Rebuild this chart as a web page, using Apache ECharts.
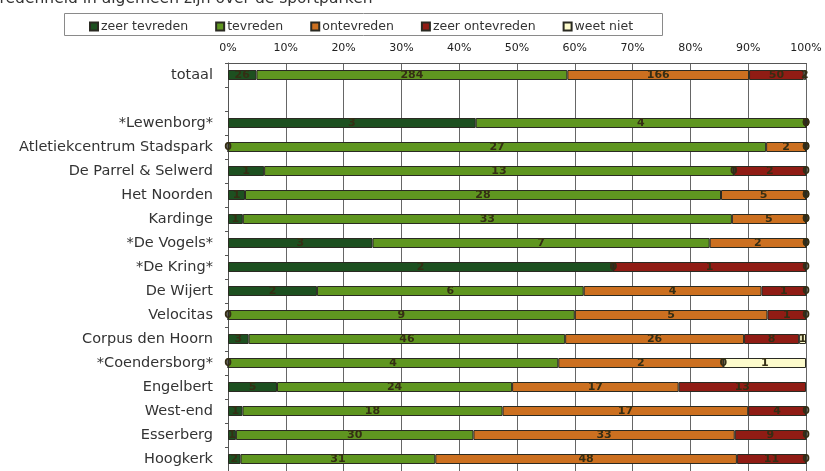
<!DOCTYPE html>
<html>
<head>
<meta charset="utf-8">
<script src="https://cdn.jsdelivr.net/npm/echarts@6/dist/echarts.min.js"></script>
<style>
  html, body { margin: 0; padding: 0; background: #fff; }
  #chart { width: 825px; height: 471px; }
</style>
</head>
<body>
<div id="chart"></div>
<script>
// rijen van boven naar beneden, lege rij tussen totaal en de parken
const categories = [
  "totaal", "", "*Lewenborg*", "Atletiekcentrum Stadspark", "De Parrel & Selwerd",
  "Het Noorden", "Kardinge", "*De Vogels*", "*De Kring*", "De Wijert", "Velocitas",
  "Corpus den Hoorn", "*Coendersborg*", "Engelbert", "West-end", "Esserberg", "Hoogkerk"
];
const seriesNames = ["zeer tevreden", "tevreden", "ontevreden", "zeer ontevreden", "weet niet"];
// aantallen (labels in de balken)
const zeerTevreden   = [26, null, 3, 0, 1, 1, 1, 3, 2, 2, 0, 3, 0, 5, 1, 1, 2];
const tevreden       = [284, null, 4, 27, 13, 28, 33, 7, 0, 6, 9, 46, 4, 24, 18, 30, 31];
const ontevreden     = [166, null, 0, 2, 0, 5, 5, 2, 0, 4, 5, 26, 2, 17, 17, 33, 48];
const zeerOntevreden = [50, null, 0, 0, 2, 0, 0, 0, 1, 1, 1, 8, 0, 13, 4, 9, 11];
const weetNiet       = [2, null, 0, 0, 0, 0, 0, 0, 0, 0, 0, 1, 1, 0, 0, 0, 0];
const xTicks = [0, 10, 20, 30, 40, 50, 60, 70, 80, 90, 100];

const counts = [zeerTevreden, tevreden, ontevreden, zeerOntevreden, weetNiet];
const colors = ["#1d5020", "#5f9620", "#cc7020", "#901c14", "#fdfbcc"];

// rijtotalen voor 100% gestapeld
const rowTotals = categories.map((c, i) =>
  counts.reduce((s, arr) => s + (arr[i] == null ? 0 : arr[i]), 0));

const chart = echarts.init(document.getElementById("chart"));

const series = counts.map((arr, k) => ({
  name: seriesNames[k],
  type: "bar",
  stack: "totaal",
  barWidth: 10,
  itemStyle: { color: colors[k], borderColor: "#2a2a22", borderWidth: 1 },
  label: {
    show: true,
    position: "inside",
    fontSize: 11,
    fontWeight: "bold",
    color: "#352e14",
    fontFamily: "DejaVu Sans",
    formatter: (p) => (arr[p.dataIndex] == null ? "" : String(arr[p.dataIndex]))
  },
  data: arr.map((v, i) => (v == null ? "-" : (v / rowTotals[i]) * 100))
}));

const option = {
  animation: false,
  textStyle: { fontFamily: "DejaVu Sans" },
  graphic: [
    {
      type: "text",
      left: -26,
      top: -9,
      style: {
        text: "Tevredenheid in algemeen zijn over de sportparken",
        font: "15.5px 'DejaVu Sans'",
        fill: "#333"
      }
    },
    {
      type: "rect",
      left: 62,
      top: 11,
      shape: { width: 598, height: 22 },
      style: { fill: "none", stroke: "#8a8a8a", lineWidth: 1 }
    }
  ],
  legend: {
    left: 84,
    top: 15,
    itemWidth: 8,
    itemHeight: 8,
    itemGap: 27,
    icon: "rect",
    textStyle: { fontSize: 12.5, color: "#333", padding: [0, 0, 0, -2] },
    data: seriesNames
  },
  grid: { left: 228, right: 19, top: 63, height: 408 },
  xAxis: {
    type: "value",
    position: "top",
    min: xTicks[0],
    max: xTicks[xTicks.length - 1],
    interval: 10,
    axisLine: { show: true, lineStyle: { color: "#555" } },
    axisTick: { show: false },
    axisLabel: { formatter: "{value}%", fontSize: 11, color: "#222", margin: 9 },
    splitLine: { show: true, lineStyle: { color: "#666", width: 1 } }
  },
  yAxis: {
    type: "category",
    inverse: true,
    data: categories,
    axisLine: { show: true, lineStyle: { color: "#555" } },
    axisTick: { show: true, length: 3, lineStyle: { color: "#555" } },
    axisLabel: { fontSize: 14.5, color: "#333", margin: 15 }
  },
  series: series
};

chart.setOption(option);
</script>
</body>
</html>
